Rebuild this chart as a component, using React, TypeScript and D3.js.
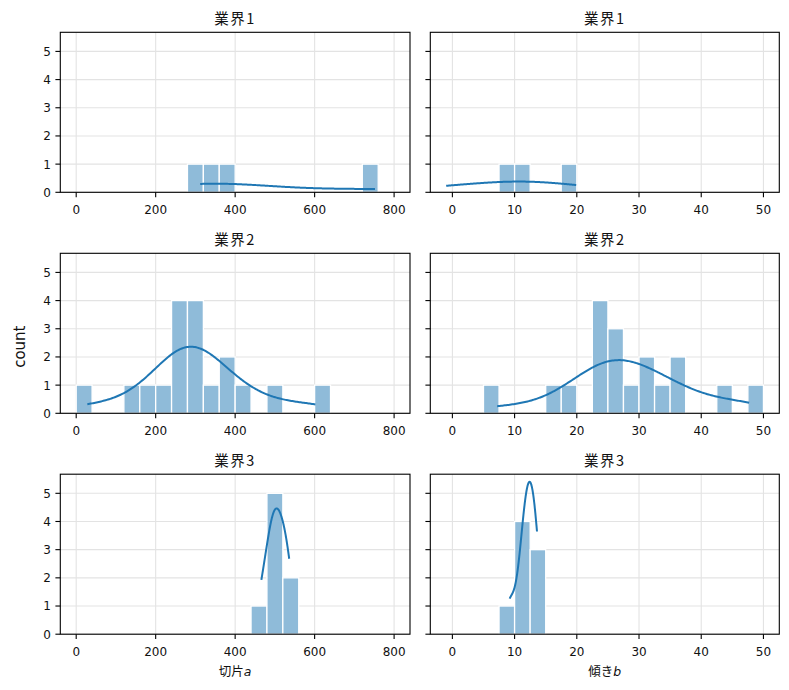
import { useEffect, useRef } from "react";
import * as d3 from "d3";

// industries (rows) and the two fitted coefficients (columns)
const industries = ["業界1", "業界2", "業界3"];

const interceptA1 = [312, 338, 384, 752];
const interceptA2 = [
  28, 140, 182, 222, 250, 262, 270, 277, 285, 293, 302, 312, 338, 370, 388,
  418, 500, 602,
];
const interceptA3 = [466, 484, 492, 500, 508, 516, 528, 536];

const slopeB1 = [-1.0, 8.4, 11.8, 19.9];
const slopeB2 = [
  7.2, 16.5, 19, 23, 23.8, 24.3, 24.8, 25.6, 26.3, 27, 28.8, 30.8, 31.8, 33.8,
  35.6, 36.8, 43.8, 47.7,
];
const slopeB3 = [9.2, 11.1, 11.6, 12.0, 12.4, 12.8, 13.2, 13.6];

const aTicks = [0, 200, 400, 600, 800];
const bTicks = [0, 10, 20, 30, 40, 50];
const countTicks = [0, 1, 2, 3, 4, 5];

const aBinRange: [number, number] = [0, 800];
const bBinRange: [number, number] = [0, 50];
const binCount = 20;

const FONT = "'DejaVu Sans', 'Noto Sans CJK JP', sans-serif";
const CJK = "'Noto Sans CJK JP', 'DejaVu Sans', sans-serif";
const BLUE = "#1f77b4";

const kdeCurve = (values: number[], binWidth: number, gridSize = 200) => {
  const n = values.length;
  const bw = (d3.deviation(values) as number) * Math.pow(n, -0.2);
  const [lo, hi] = d3.extent(values) as [number, number];
  return d3.range(gridSize).map((i) => {
    const x = lo + ((hi - lo) * i) / (gridSize - 1);
    const dens =
      d3.sum(values, (v) => Math.exp(-0.5 * ((x - v) / bw) ** 2)) /
      (n * bw * Math.sqrt(2 * Math.PI));
    return [x, dens * n * binWidth] as [number, number];
  });
};

const App = () => {
  const ref = useRef<SVGSVGElement>(null);

  useEffect(() => {
    if (!ref.current) return;
    const svg = d3.select(ref.current);
    svg.selectAll("*").remove();

    const width = 789;
    const height = 690;
    const colX = [
      [60.3, 410],
      [430.3, 779.3],
    ];
    const rowTop = [32.3, 253.3, 474.2];
    const panelH = 160;

    const columns = [
      {
        data: [interceptA1, interceptA2, interceptA3],
        range: aBinRange,
        ticks: aTicks,
        label: "切片",
        sym: "a",
      },
      {
        data: [slopeB1, slopeB2, slopeB3],
        range: bBinRange,
        ticks: bTicks,
        label: "傾き",
        sym: "b",
      },
    ];

    // bins + kde per panel
    const panels = columns.map((col) =>
      col.data.map((values) => {
        const [lo, hi] = col.range;
        const step = (hi - lo) / binCount;
        const thresholds = d3.range(1, binCount).map((i) => lo + i * step);
        const bins = d3
          .bin()
          .domain(col.range)
          .thresholds(thresholds)(values.filter((v) => v >= lo && v <= hi));
        const kde = kdeCurve(values, step);
        return { bins, kde };
      }),
    );

    // shared count axis
    const yMax =
      d3.max(panels.flat(), (p) =>
        Math.max(
          d3.max(p.bins, (b) => b.length) as number,
          d3.max(p.kde, (k) => k[1]) as number,
        ),
      )! * 1.05;

    svg
      .append("rect")
      .attr("width", width)
      .attr("height", height)
      .attr("fill", "white");

    columns.forEach((col, ci) => {
      // shared x per column, matplotlib 5% margins
      const lo = Math.min(
        col.range[0],
        d3.min(col.data, (v) => d3.min(v)) as number,
      );
      const hi = Math.max(
        col.range[1],
        d3.max(col.data, (v) => d3.max(v)) as number,
      );
      const pad = (hi - lo) * 0.05;
      const [x0, x1] = colX[ci];
      const x = d3
        .scaleLinear()
        .domain([lo - pad, hi + pad])
        .range([x0, x1]);

      industries.forEach((name, ri) => {
        const top = rowTop[ri];
        const y = d3
          .scaleLinear()
          .domain([0, yMax])
          .range([top + panelH, top]);
        const { bins, kde } = panels[ci][ri];
        const g = svg.append("g");

        // grid
        g.selectAll(".gx")
          .data(col.ticks)
          .join("line")
          .attr("x1", (d) => x(d))
          .attr("x2", (d) => x(d))
          .attr("y1", top)
          .attr("y2", top + panelH)
          .attr("stroke", "#e3e3e3")
          .attr("stroke-width", 1.1);
        g.selectAll(".gy")
          .data(countTicks)
          .join("line")
          .attr("x1", x0)
          .attr("x2", x1)
          .attr("y1", (d) => y(d))
          .attr("y2", (d) => y(d))
          .attr("stroke", "#e3e3e3")
          .attr("stroke-width", 1.1);

        // bars
        g.selectAll(".bar")
          .data(bins.filter((b) => b.length > 0))
          .join("rect")
          .attr("x", (d) => x(d.x0 as number))
          .attr("width", (d) => x(d.x1 as number) - x(d.x0 as number))
          .attr("y", (d) => y(d.length))
          .attr("height", (d) => y(0) - y(d.length))
          .attr("fill", "#8fbbd9")
          .attr("stroke", "white")
          .attr("stroke-width", 1.3);

        // kde
        g.append("path")
          .attr(
            "d",
            d3
              .line()
              .x((d) => x(d[0]))
              .y((d) => y(d[1]))(kde),
          )
          .attr("fill", "none")
          .attr("stroke", BLUE)
          .attr("stroke-width", 2);

        // frame
        g.append("rect")
          .attr("x", x0)
          .attr("y", top)
          .attr("width", x1 - x0)
          .attr("height", panelH)
          .attr("fill", "none")
          .attr("stroke", "black")
          .attr("stroke-width", 1.1);

        // x ticks
        col.ticks.forEach((t) => {
          g.append("line")
            .attr("x1", x(t))
            .attr("x2", x(t))
            .attr("y1", top + panelH)
            .attr("y2", top + panelH + 4.9)
            .attr("stroke", "black")
            .attr("stroke-width", 1.1);
          g.append("text")
            .attr("x", x(t))
            .attr("y", top + panelH + 21.5)
            .attr("text-anchor", "middle")
            .attr("font-family", FONT)
            .attr("font-size", 12)
            .attr("fill", "#111")
            .text(t);
        });

        // y ticks (labels only on the left column)
        countTicks.forEach((t) => {
          g.append("line")
            .attr("x1", x0 - 4.9)
            .attr("x2", x0)
            .attr("y1", y(t))
            .attr("y2", y(t))
            .attr("stroke", "black")
            .attr("stroke-width", 1.1);
          if (ci === 0) {
            g.append("text")
              .attr("x", x0 - 9.5)
              .attr("y", y(t) + 4.4)
              .attr("text-anchor", "end")
              .attr("font-family", FONT)
              .attr("font-size", 12)
              .attr("fill", "#111")
              .text(t);
          }
        });

        // title
        g.append("text")
          .attr("x", (x0 + x1) / 2)
          .attr("y", top - 8.5)
          .attr("text-anchor", "middle")
          .attr("font-family", CJK)
          .attr("font-size", 14.5)
          .attr("letter-spacing", 1.5)
          .attr("fill", "#111")
          .text(name);
      });

      // x label
      const lab = svg
        .append("text")
        .attr("x", (x0 + x1) / 2)
        .attr("y", 676)
        .attr("text-anchor", "middle")
        .attr("font-family", CJK)
        .attr("font-size", 12.5)
        .attr("fill", "#111");
      lab.append("tspan").text(col.label);
      lab
        .append("tspan")
        .attr("font-family", "'DejaVu Sans'")
        .attr("font-style", "italic")
        .text(col.sym);
    });

    // shared y label
    svg
      .append("text")
      .attr("transform", "translate(25,346.7) rotate(-90)")
      .attr("text-anchor", "middle")
      .attr("font-family", FONT)
      .attr("font-size", 15)
      .attr("fill", "#111")
      .text("count");
  }, []);

  return (
    <svg
      ref={ref}
      width={789}
      height={690}
      style={{ position: "absolute", left: 0, top: 0 }}
    />
  );
};

export default App;
